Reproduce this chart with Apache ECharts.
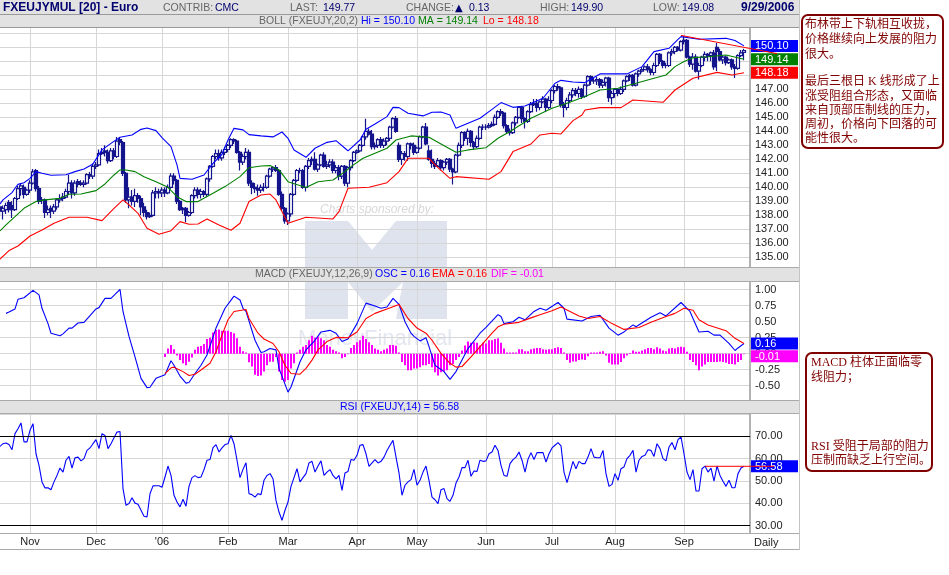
<!DOCTYPE html>
<html>
<head>
<meta charset="utf-8">
<title>FXEUJYMUL</title>
<script src="https://cdn.jsdelivr.net/npm/echarts@6/dist/echarts.min.js"></script>
<style>
  html, body { margin: 0; padding: 0; background: #fff; }
  #chart { width: 949px; height: 575px; }
</style>
</head>
<body>
<div id="chart"></div>
<script>
// 每根K线一个交易日，第0天到第248天
const opens = [
  138.6,138.3,138.4,138.9,138.7,138.4,139.2,139.9,140.0,139.5,
  139.8,140.3,141.2,139.9,139.1,139.1,138.2,138.5,138.3,138.6,
  139.1,139.2,139.3,139.7,140.3,139.6,140.4,140.3,140.2,140.3,
  140.9,140.8,141.5,141.6,142.4,142.6,142.5,141.9,142.6,142.2,
  143.4,143.2,141.0,139.1,139.3,139.0,139.4,139.2,138.6,138.2,
  137.9,138.0,139.6,139.7,139.6,139.8,139.6,140.0,140.8,140.5,
  139.0,138.4,138.5,138.0,138.2,139.4,139.8,139.5,139.7,139.5,
  140.6,141.5,142.2,142.4,142.1,142.5,142.7,143.0,143.4,143.3,
  142.5,141.8,142.2,142.5,140.3,140.0,139.9,139.8,140.0,140.0,
  140.8,141.3,141.4,141.2,139.5,138.5,137.6,138.1,139.5,140.5,
  141.2,141.2,140.0,141.5,141.9,142.0,141.3,141.6,142.3,141.5,
  141.6,141.8,141.2,141.4,140.8,141.5,140.3,141.4,141.9,142.5,
  142.6,143.0,143.6,144.0,143.8,142.9,143.0,143.4,143.0,143.3,
  143.5,144.3,144.9,143.0,142.0,142.4,142.2,143.1,143.0,142.5,
  142.8,143.6,144.3,142.6,142.0,141.7,141.5,141.9,141.4,141.8,
  142.0,141.3,141.1,142.3,143.0,143.9,143.5,144.0,143.2,142.9,
  143.5,144.3,144.3,144.3,144.4,144.5,145.0,145.4,145.3,144.4,
  144.0,143.9,144.6,145.0,145.7,144.9,144.7,145.4,145.9,146.0,
  145.7,146.1,146.3,145.7,146.2,146.9,147.2,147.1,145.9,145.7,
  146.2,146.6,146.9,146.7,147.0,146.5,147.3,147.9,147.6,147.6,
  147.7,147.3,147.5,147.8,146.4,146.7,147.0,146.7,147.0,147.6,
  147.9,148.0,147.3,148.1,148.3,148.4,148.6,148.4,148.2,148.7,
  149.5,149.0,148.7,148.7,149.6,149.7,150.0,149.8,150.4,150.5,
  149.3,148.8,149.3,148.3,148.7,149.3,149.5,149.4,149.6,150.0,
  149.7,149.1,149.3,148.9,149.1,148.6,148.5,149.4,149.64
]
const closes = [
  138.3,138.5,138.7,138.4,138.4,139.2,139.9,140.1,139.5,139.8,
  140.3,141.1,139.9,139.0,139.1,138.2,138.4,138.3,138.6,139.1,
  139.2,139.3,139.7,140.3,139.6,140.3,140.2,140.2,140.3,140.9,
  140.8,141.5,141.6,142.4,142.5,142.5,141.9,142.6,142.2,143.3,
  143.2,141.0,139.1,139.3,139.0,139.4,139.2,138.6,138.2,137.9,
  138.0,139.6,139.7,139.6,139.8,139.6,140.0,140.8,140.5,139.0,
  138.4,138.5,138.0,138.2,139.4,139.8,139.5,139.7,139.5,140.6,
  141.5,142.2,142.4,142.1,142.5,142.7,143.0,143.4,143.3,142.5,
  141.8,142.2,142.5,140.3,140.0,139.9,139.8,140.0,140.0,140.8,
  141.3,141.4,141.2,139.5,138.5,137.6,138.1,139.5,140.5,141.2,
  141.2,140.0,141.5,141.9,142.0,141.3,141.6,142.3,141.5,141.6,
  141.8,141.2,141.4,140.8,141.5,140.3,141.4,141.9,142.5,142.6,
  143.0,143.6,144.0,143.8,142.9,143.0,143.4,143.0,143.3,143.5,
  144.3,144.9,144.0,142.0,142.4,142.2,143.1,143.0,142.5,142.8,
  143.6,144.3,143.1,142.0,141.7,141.5,141.9,141.4,141.8,142.0,
  141.3,141.1,142.3,143.0,143.9,143.5,144.0,143.2,142.9,143.5,
  144.3,144.3,144.3,144.4,144.5,145.0,145.4,145.3,144.4,144.0,
  143.9,144.6,145.0,145.7,144.9,144.7,145.4,145.9,146.0,145.7,
  146.1,146.3,145.7,146.2,146.9,147.2,147.1,145.9,145.7,146.2,
  146.6,146.9,146.7,147.0,146.5,147.3,147.9,147.6,147.6,147.7,
  147.3,147.5,147.8,146.4,146.7,147.0,146.7,147.0,147.6,147.9,
  148.0,147.3,148.1,148.3,148.4,148.6,148.4,148.2,148.7,149.5,
  149.0,148.7,148.7,149.6,149.7,150.0,149.8,150.4,150.5,149.3,
  148.8,149.3,148.3,148.7,149.3,149.5,149.4,149.6,148.6,149.7,
  149.1,149.3,148.9,149.1,148.6,148.5,149.4,149.6,149.77
]
const lows = [
  138.0,137.7,138.1,138.2,137.8,138.3,139.1,139.4,139.2,139.4,
  139.6,140.2,139.7,138.8,138.8,137.8,138.0,137.8,138.1,138.4,
  138.9,139.0,139.2,139.5,139.2,139.4,140.0,140.1,140.0,140.2,
  140.6,140.6,141.3,141.5,142.3,142.2,141.7,141.8,142.0,142.1,
  143.0,140.8,138.9,138.5,138.7,138.6,138.9,138.0,137.9,137.7,
  137.8,137.9,139.2,139.2,139.3,139.3,139.5,139.9,140.2,138.8,
  138.3,138.1,137.5,137.9,138.1,139.2,139.2,139.2,139.3,139.3,
  140.4,141.4,142.0,141.9,141.9,142.3,142.5,142.8,143.1,142.4,
  141.2,141.6,142.0,140.1,139.5,139.6,139.4,139.6,139.7,139.9,
  140.7,141.1,141.1,139.4,138.3,137.4,137.3,137.9,139.4,140.4,
  141.0,139.9,139.7,141.3,141.6,141.2,141.1,141.5,141.4,141.3,
  141.4,141.0,141.0,140.5,140.6,140.1,140.0,141.2,141.8,142.4,
  142.5,142.9,143.4,143.7,142.7,142.7,142.8,142.8,142.8,143.0,
  143.3,144.2,143.9,141.8,141.6,141.9,141.9,142.7,142.3,142.4,
  142.7,143.5,143.0,141.9,141.4,141.3,141.6,141.2,141.2,141.6,
  141.1,140.2,141.0,142.2,142.8,143.3,143.0,142.9,142.7,142.8,
  143.4,144.1,144.1,144.2,144.3,144.4,144.9,145.1,144.2,143.8,
  143.7,143.8,144.4,144.9,144.6,144.2,144.6,145.3,145.8,145.4,
  145.5,146.0,145.4,145.6,146.0,146.7,146.9,145.7,145.0,145.5,
  146.0,146.4,146.5,146.4,146.3,146.4,147.2,147.3,147.4,147.3,
  147.1,147.1,147.2,146.1,145.9,146.4,146.5,146.6,146.8,147.5,
  147.6,147.2,147.2,147.9,148.2,148.4,148.2,148.0,148.0,148.6,
  148.8,148.5,148.5,148.6,149.4,149.5,149.7,149.7,150.2,149.2,
  148.6,148.4,148.2,147.7,148.6,149.0,149.0,149.0,148.4,148.3,
  149.0,148.8,148.7,148.8,148.4,147.8,148.4,149.3,149.08
]
const highs = [
  138.8,138.7,138.9,139.1,139.0,139.3,140.1,140.3,140.2,139.9,
  140.5,141.3,141.3,140.1,139.3,139.2,138.7,138.7,138.8,139.2,
  139.5,139.6,139.9,140.9,140.5,140.5,140.6,140.5,140.5,141.0,
  141.1,141.7,141.8,142.7,142.8,143.0,142.7,142.8,142.8,143.6,
  143.6,143.3,141.1,140.0,139.8,139.9,139.6,139.4,138.9,138.4,
  138.2,139.8,140.0,139.9,140.0,140.0,140.2,141.0,141.0,140.6,
  139.1,138.6,138.6,138.3,139.5,140.0,140.0,139.9,139.8,140.7,
  141.6,142.3,142.7,142.7,142.7,142.9,143.1,143.5,143.5,143.4,
  142.6,142.4,142.8,142.7,140.5,140.3,140.2,140.2,140.3,140.9,
  141.4,141.5,141.6,141.3,139.7,138.6,138.2,139.6,140.6,141.3,
  141.4,141.3,141.6,142.1,142.2,142.5,141.7,142.4,142.5,141.9,
  142.0,142.0,141.6,141.6,141.6,141.6,141.5,142.0,142.6,142.7,
  143.1,143.7,144.9,144.2,144.1,143.2,143.5,143.6,143.5,143.6,
  144.4,145.0,145.1,143.2,142.6,142.6,143.2,143.2,143.2,142.9,
  143.7,144.4,144.6,143.0,142.7,141.9,142.1,142.0,141.9,142.1,
  142.1,141.4,142.4,143.2,144.0,144.0,144.2,144.1,143.3,143.7,
  144.4,144.5,144.5,144.6,144.7,145.2,145.5,145.6,145.4,144.5,
  144.2,144.7,145.1,145.8,145.8,145.0,145.5,146.1,146.3,146.3,
  146.2,146.5,146.4,146.5,147.0,147.3,147.4,147.2,146.1,146.4,
  146.8,147.1,147.1,147.2,147.1,147.4,148.0,148.0,147.8,147.9,
  147.8,147.7,147.9,147.9,146.9,147.1,147.1,147.2,147.7,148.0,
  148.1,148.1,148.2,148.4,148.6,148.7,148.8,148.5,148.9,149.6,
  149.6,149.1,148.9,149.7,149.9,150.1,150.1,150.5,150.8,150.6,
  149.4,149.6,149.5,148.9,149.4,149.7,149.6,149.7,149.8,150.3,
  149.9,149.4,149.4,149.2,149.2,148.8,149.5,149.8,149.90
]

// 布林带、MACD 折线的拐点：[第几天, 数值]
const bollHi = [
  [0,138.81],[1,139.1],[4,139.62],[5,139.93],[6,140.21],[8,140.33],[10,140.64],[12,141.12],[14,141],[17,140.86],
  [22,140.9],[25,141.12],[28,141.31],[31,141.67],[34,142.67],[37,143.14],[40,143.57],[44,143.74],[47,144.14],[49,144.24],
  [52,144.05],[54,143.55],[57,142.9],[59,141.6],[60,140.64],[64,140.57],[68,140.88],[71,141.71],[74,142.36],[76,143.38],
  [78,144.21],[81,144.1],[83,143.76],[87,143.67],[91,143.6],[94,143.95],[96,143.5],[98,142.67],[102,142.14],[105,142.79],
  [109,143.21],[112,143.33],[115,142.79],[116,142.6],[120,143.38],[122,144.14],[125,144.52],[129,145.05],[131,145.71],[133,145.69],
  [136,145.29],[141,145.1],[144,145.36],[147,145.38],[150,145.17],[152,144.21],[156,144.57],[160,144.93],[164,145.57],[167,146.05],
  [171,145.71],[175,145.81],[181,146.36],[185,147.43],[187,147.64],[191,147.52],[195,147.48],[200,148.1],[209,148.1],[214,148.62],
  [218,149.69],[223,149.93],[226,150.57],[227,150.76],[233,150.57],[242,150.64],[245,150.48],[248,150.1]
]
const bollMa = [
  [0,136.88],[2,137.31],[5,137.9],[8,138.5],[12,138.98],[15,139.1],[20,139.21],[23,139.5],[27,139.52],[32,139.76],
  [35,140.24],[38,140.88],[40,141.24],[42,141.24],[45,141.12],[48,140.76],[52,140.4],[56,140],[59,139.33],[62,138.98],
  [66,138.98],[71,139.57],[75,140.05],[80,140.76],[83,141.4],[87,141.52],[90,141.55],[93,141.24],[96,140.4],[102,139.98],
  [106,140.4],[111,140.52],[115,141.12],[117,141.48],[121,142.07],[125,142.43],[129,142.79],[132,143.38],[137,143.67],[143,143.57],
  [147,143.1],[152,142.5],[156,142.67],[162,142.83],[166,143.5],[170,143.98],[177,144.93],[184,145.64],[189,146],[195,146.48],
  [200,146.95],[206,147.07],[212,147.43],[218,147.79],[222,148.02],[225,148.62],[228,148.98],[231,149.26],[236,149.33],[242,149.45],[248,149.14]
]
const bollLo = [
  [0,134.88],[3,135.48],[6,135.81],[10,136.52],[14,136.95],[18,137.43],[23,137.86],[29,137.86],[34,137.62],[38,138.5],
  [41,139.1],[43,138.74],[46,138.14],[49,137.07],[53,136.64],[57,136.9],[60,137.55],[63,137.36],[66,137.38],[69,137.74],
  [73,137.31],[77,136.93],[80,137.43],[83,138.98],[87,139.45],[90,139.52],[92,139.1],[96,137.43],[102,137.86],[111,137.74],
  [113,138.26],[116,139.93],[123,140],[129,140.33],[133,141.12],[136,142.07],[143,142.07],[145,141.6],[150,140.64],[152,140.76],
  [163,140.57],[167,141.12],[171,142.55],[177,143.1],[180,143.74],[184,143.86],[187,143.81],[191,144.76],[194,145.17],[195,145.52],
  [200,145.69],[207,145.69],[211,146.24],[221,146.07],[225,146.95],[231,147.79],[239,148.21],[244,148.02],[248,148.18]
]
const macdOsc = [
  [2,.63],[3,.65],[5,.7],[6,.85],[8,.875],[11,.99],[13,.92],[14,.71],[16,.47],[17,.32],
  [20,.28],[21,.31],[23,.4],[24,.4],[26,.48],[28,.49],[32,.7],[33,.72],[35,.865],[37,.865],
  [40,1.005],[41,.66],[43,.27],[45,-.05],[47,-.385],[49,-.53],[50,-.525],[52,-.385],[55,-.33],[57,-.11],
  [58,-.18],[60,-.35],[62,-.46],[63,-.45],[65,-.31],[67,-.18],[69,-.02],[72,.4],[75,.71],[78,.9],
  [80,.84],[81,.71],[82,.66],[85,.21],[87,.02],[88,.03],[90,.08],[92,.06],[93,-.23],[96,-.6],
  [97,-.52],[100,-.125],[102,.06],[105,.21],[107,.34],[110,.365],[112,.32],[114,.19],[116,.23],[119,.47],
  [122,.79],[125,.745],[127,.71],[129,.73],[131,.865],[133,.77],[135,.5],[137,.32],[138,.27],[140,.2],
  [142,.25],[143,.11],[145,-.18],[148,-.28],[150,-.4],[152,-.28],[156,.08],[160,.32],[162,.41],[166,.61],
  [167,.58],[168,.47],[171,.5],[173,.57],[175,.53],[178,.66],[180,.71],[182,.68],[186,.8],[188,.71],
  [189,.54],[194,.51],[197,.58],[200,.6],[203,.4],[206,.29],[208,.34],[211,.45],[212,.42],[217,.57],
  [220,.64],[222,.59],[227,.8],[230,.66],[231,.55],[233,.34],[236,.35],[238,.29],[240,.29],[243,.16],
  [245,.05],[246,.09],[248,.16]
]
const macdEma = [
  [55,-.31],[57,-.22],[58,-.21],[61,-.28],[63,-.34],[65,-.32],[67,-.255],[70,-.15],[72,.03],[74,.29],
  [76,.53],[78,.66],[82,.69],[83,.55],[86,.32],[88,.23],[91,.16],[93,.03],[95,-.18],[97,-.31],
  [100,-.32],[102,-.23],[104,-.1],[106,.06],[109,.19],[112,.255],[116,.25],[119,.34],[122,.55],[125,.63],
  [129,.7],[133,.77],[136,.55],[139,.4],[142,.32],[144,.21],[147,.005],[150,-.15],[152,-.21],[154,-.2],
  [157,-.05],[161,.16],[164,.32],[166,.42],[168,.46],[173,.49],[177,.56],[180,.61],[184,.67],[187,.73],
  [190,.66],[193,.59],[196,.55],[200,.58],[204,.47],[208,.38],[213,.41],[217,.49],[222,.58],[225,.63],
  [228,.71],[231,.68],[233,.53],[236,.45],[242,.36],[245,.24],[248,.16]
]
// MACD 柱体从第55天开始，每天一根
const histStart = 55
const macdHist = [
  -.05,.08,.135,.07,-.03,-.1,-.15,-.18,-.125,-.06,
  .06,.11,.12,.15,.23,.25,.33,.37,.38,.36,
  .36,.36,.34,.32,.24,.11,.04,.02,-.135,-.2,
  -.33,-.35,-.34,-.28,-.18,-.125,-.125,-.05,-.28,-.41,
  -.44,-.41,-.23,-.15,.02,.06,.11,.135,.21,.28,
  .25,.27,.24,.21,.135,.11,.06,.04,.02,-.07,
  -.05,-.01,.09,.135,.18,.21,.28,.23,.18,.135,
  .08,.06,.04,.06,.08,.135,.135,.125,.02,
  -.13,-.18,-.26,-.26,-.23,-.23,-.21,-.18,-.18,-.16,
  -.21,-.29,-.34,-.29,-.28,-.26,-.18,-.16,-.1,-.05,
  .05,.13,.19,.17,.18,.17,.13,.17,.16,.21,
  .21,.23,.24,.17,.08,.02,.02,.02,.02,.07,
  .07,.04,.04,.07,.08,.09,.09,.07,.06,.07,
  .07,.09,.1,.09,.02,-.1,-.14,-.12,-.12,-.1,
  -.09,-.1,-.04,.02,.02,.02,.03,.04,-.03,-.14,
  -.17,-.17,-.17,-.13,-.07,-.03,.01,.05,.03,.03,
  .05,.07,.09,.09,.07,.1,.08,.05,.04,.08,
  .09,.08,.1,.11,.1,.03,-.1,-.13,-.18,-.26,
  -.2,-.17,-.13,-.13,-.13,-.13,-.12,-.13,-.14,-.16,
  -.16,-.17,-.13,-.1,-.01
]
const rsi = [
  65.5,66.7,67,66.3,64,71.2,73.4,76,67.5,67.5,
  72.7,75.7,62.2,57,49.6,46.9,47,46.1,49.6,52.5,
  55.8,54,59.3,61,55.8,60.4,60.7,59,60,63.7,
  64.8,66.7,68.5,64.5,71.2,70.4,64.5,66.7,69.4,71.9,
  72.2,46.6,39.1,39.9,42.5,40.1,39.6,36.9,34.2,33.9,
  44.3,47.8,47.9,47.9,47.2,51.8,56.7,52.5,43.6,40.6,
  38.4,41.8,38.7,47.6,51.5,52.4,51.5,51.8,55.1,59.3,
  59.6,64.9,66.3,63,64.8,66.3,66.7,70.4,66.7,59.3,
  51.5,55.2,58.2,44.3,43.9,42.8,44.3,43.9,50.3,52.5,
  53.3,51,41.3,36.1,32.4,36.9,40.6,47.6,51.5,55.5,
  49.6,51.5,53.3,58.1,58.8,54,56.7,59,52.5,54,
  55.1,52.5,51,52.5,45.8,53.6,54.3,59.6,59.3,61.5,
  66,66.3,62.2,56.6,58.1,59.6,58.1,58.8,60.7,63.7,
  66,68.2,60.7,
  53.6,43.6,48.1,49.6,50.6,55.2,48.1,50.3,54,56.7,
  50.3,42.8,41.6,39.9,46.1,46.6,42.1,40.9,43.6,49.1,
  51.8,56,56,59.3,52.1,54.5,54.3,59.3,58.8,59,
  62.2,63,66,63.7,57,52.5,52.1,57.8,59.6,60.7,
  63,59.3,54,59.7,62.7,59.6,62.7,62.7,62.7,58.5,
  62.2,64.8,66,67.2,65.7,54,49.3,54,58.8,55.5,
  58.8,57.8,57.8,60.7,64.5,60.7,60.4,60.4,63.7,53.3,
  47.6,48.5,53.3,50.3,55.5,56.3,60,61.5,63.7,54,
  59.3,61,61.5,64,63.7,61,66.7,64.5,60,59,
  65.2,67.2,64,68.5,69.7,62.2,54,50.6,55.1,45.5,
  45.5,55.5,56.7,54,55.8,49.9,56.7,52.5,49.9,47.6,
  50.3,47,47,53.3,55.8,56.58
]

// 月份刻度
const monthDays = [10, 32, 54, 76, 96, 119, 139, 162, 184, 205, 228]
const monthLabels = ['Nov', 'Dec', "'06", 'Feb', 'Mar', 'Apr', 'May', 'Jun', 'Jul', 'Aug', 'Sep']

// 最新数值
const lastBoll = { hi: 150.10, ma: 149.14, lo: 148.18 }
const lastMacd = { osc: 0.16, ema: 0.16, dif: -0.01 }
const lastRsi = 56.58
const rsiLevels = [70, 30]
// 手画的压力线
const priceTrend = [[227, 150.85], [259, 149.55]]
const rsiTrend = [[235, 56.58], [258, 56.58]]

const noteTop = [
  ['布林带上下轨相互收拢，', 25], ['价格继续向上发展的阻力', 40], ['很大。', 55],
  ['最后三根日 K 线形成了上', 82], ['涨受阻组合形态，又面临', 97], ['来自顶部压制线的压力，', 111],
  ['周初，价格向下回落的可', 125], ['能性很大。', 139]
]
const noteBottom = [
  ['MACD 柱体正面临零', 363], ['线阻力；', 378],
  ['RSI 受阻于局部的阻力', 447], ['压制而缺乏上行空间。', 461]
]

const days = []
for (let i = 0; i <= 250; i++) days.push(String(i))

const candles = opens.map((o, i) => [o, closes[i], lows[i], highs[i]])
const isMonth = (i) => monthDays.indexOf(i) !== -1
const gridColor = '#d6d6d6'
const axisFont = 'Liberation Sans, Arial, sans-serif'

function panelX(gridIndex) {
  return {
    type: 'category', gridIndex, data: days, boundaryGap: false,
    axisLine: { show: false }, axisTick: { show: false }, axisLabel: { show: false },
    splitLine: { show: true, interval: isMonth, lineStyle: { color: gridColor } }
  }
}

function panelY(gridIndex, min, max, interval, lo, hi) {
  return {
    type: 'value', gridIndex, position: 'right', min, max, interval, scale: true,
    axisLine: { show: true, onZero: false, lineStyle: { color: '#999', width: 1.5 } },
    axisTick: { show: false },
    axisLabel: {
      margin: 5, padding: [2, 0, 0, 0], color: '#222', fontSize: 11, fontFamily: axisFont,
      formatter: (v) => (v < lo || v > hi ? '' : v.toFixed(2))
    },
    splitLine: { show: true, lineStyle: { color: gridColor } }
  }
}

function line(name, data, color, xAxisIndex, yAxisIndex) {
  return {
    name, type: 'line', data, xAxisIndex, yAxisIndex, symbol: 'none', z: 4,
    lineStyle: { color, width: 1.1 }, itemStyle: { color }
  }
}

const option = {
  animation: false,
  backgroundColor: '#fff',
  grid: [
    { left: 0, top: 19.3, width: 750, height: 252 },
    { left: 0, top: 273.7, width: 750, height: 128 },
    { left: 0, top: 414, width: 750, height: 134 },
    { left: 0, top: 533, width: 750, height: 1 }
  ],
  xAxis: [
    panelX(0), panelX(1), panelX(2),
    {
      type: 'category', gridIndex: 3, data: days, boundaryGap: false, z: 20,
      axisLine: { show: false }, axisTick: { show: false }, splitLine: { show: false },
      axisLabel: {
        interval: (i) => isMonth(i), margin: 2, color: '#222', fontSize: 11, fontFamily: axisFont,
        formatter: (v) => monthLabels[monthDays.indexOf(Number(v))]
      }
    }
  ],
  yAxis: [
    panelY(0, 134, 152, 1, 135, 150),
    panelY(1, -0.75, 1.25, 0.25, -0.5, 1),
    panelY(2, 20, 80, 10, 30, 70),
    { type: 'value', gridIndex: 3, show: false }
  ],
  series: [
    {
      name: 'FXEUJY', type: 'candlestick', data: candles, xAxisIndex: 0, yAxisIndex: 0,
      barWidth: 3, clip: false, z: 3,
      itemStyle: { color: '#fff', color0: '#14148c', borderColor: '#14148c', borderColor0: '#14148c', borderWidth: 1.2 }
    },
    line('Hi', bollHi, '#0000ff', 0, 0),
    line('MA', bollMa, '#008000', 0, 0),
    line('Lo', bollLo, '#ff0000', 0, 0),
    {
      name: 'DIF', type: 'bar', xAxisIndex: 1, yAxisIndex: 1, barWidth: 2, z: 3,
      data: macdHist.map((v, k) => [histStart + k, v]), itemStyle: { color: '#ff00ff' }
    },
    line('OSC', macdOsc, '#0000ff', 1, 1),
    line('EMA', macdEma, '#ff0000', 1, 1),
    Object.assign(line('RSI', rsi, '#0000ff', 2, 2), {
      markLine: {
        silent: true, symbol: 'none', label: { show: false },
        lineStyle: { color: '#000', width: 1, type: 'solid' },
        data: rsiLevels.map((v) => ({ yAxis: v }))
      }
    })
  ]
}

const chart = echarts.init(document.getElementById('chart'))
chart.setOption(option)

function label(x, y, text, fill, font, extra) {
  return {
    type: 'text', z: 13, silent: true,
    style: Object.assign({ x, y, text, fill, font: font || '10px ' + axisFont, textVerticalAlign: 'middle' }, extra)
  }
}
function band(x, y, width, height, fill, z) {
  return { type: 'rect', z: z || 10, silent: true, shape: { x, y, width, height }, style: { fill } }
}
function rule(x1, y1, x2, y2, stroke) {
  return { type: 'line', z: 12, silent: true, shape: { x1, y1, x2, y2 }, style: { stroke, lineWidth: 1 } }
}
function valueBox(gridIndex, value, fill, offset) {
  const y = chart.convertToPixel({ gridIndex }, [0, value])[1] + (offset || 0)
  return [
    band(751, y - 6, 47, 12, fill, 11),
    label(755, y + 0.5, value.toFixed(2), '#fff', '11px ' + axisFont)
  ]
}
function trend(gridIndex, points) {
  const a = chart.convertToPixel({ gridIndex }, points[0])
  const b = chart.convertToPixel({ gridIndex }, points[1])
  return { type: 'line', z: 14, silent: true, shape: { x1: a[0], y1: a[1], x2: b[0], y2: b[1] }, style: { stroke: '#ff0000', lineWidth: 1 } }
}

const gray = '#666'
const navy = '#00006e'
const f10 = '10.5px ' + axisFont
const f11 = '11px ' + axisFont
const bold = 'bold 12px ' + axisFont
const noteFont = '12px "Liberation Serif", "Noto Sans CJK SC", serif'

const graphics = [
  // 水印
  {
    type: 'polygon', z: -1, silent: true,
    shape: { points: [[305, 221], [348, 221], [372, 250], [396, 221], [447, 221], [447, 319], [396, 319], [403, 282], [372, 312], [348, 282], [348, 319], [305, 319]] },
    style: { fill: '#dfe3ee' }
  },
  { type: 'text', z: -1, silent: true, style: { x: 320, y: 210, text: 'Charts sponsored by:', fill: '#d8d8d8', font: 'italic 12px ' + axisFont, textVerticalAlign: 'middle' } },
  { type: 'text', z: -1, silent: true, style: { x: 298, y: 339, text: 'MoneyFinancial', fill: '#e4e7f0', font: '22px ' + axisFont, textVerticalAlign: 'middle' } },

  // 标题栏
  band(0, 0, 800, 14.5, '#e2e2e2'),
  band(0, 15, 800, 12.5, '#e2e2e2'),
  band(0, 267, 800, 14.5, '#e2e2e2'),
  band(0, 400, 800, 14, '#e2e2e2'),
  band(0, 533, 800, 17, '#fff'),
  rule(0, 14.5, 800, 14.5, '#999'),
  rule(0, 27.5, 800, 27.5, '#999'),
  rule(0, 267.5, 800, 267.5, '#aaa'),
  rule(0, 281.5, 800, 281.5, '#aaa'),
  rule(0, 400.5, 800, 400.5, '#aaa'),
  rule(0, 413.5, 800, 413.5, '#aaa'),
  rule(0, 533.5, 800, 533.5, '#aaa'),
  rule(0, 549.5, 800, 549.5, '#aaa'),
  rule(799.5, 0, 799.5, 550, '#c4c4c4'),

  label(3, 8, 'FXEUJYMUL [20] - Euro', navy, bold),
  label(163, 8.5, 'CONTRIB:', gray, f10),
  label(215, 8.5, 'CMC', navy, f10),
  label(290, 8.5, 'LAST:', gray, f10),
  label(323, 8.5, closes[closes.length - 1].toFixed(2), navy, f10),
  label(406, 8.5, 'CHANGE:', gray, f10),
  label(455, 8, '▲', navy, '10px "DejaVu Sans"'),
  label(469, 8.5, '0.13', navy, f10),
  label(540, 8.5, 'HIGH:', gray, f10),
  label(571, 8.5, highs[highs.length - 1].toFixed(2), navy, f10),
  label(653, 8.5, 'LOW:', gray, f10),
  label(682, 8.5, lows[lows.length - 1].toFixed(2), navy, f10),
  label(741, 8, '9/29/2006', navy, bold),

  label(259, 21.5, 'BOLL (FXEUJY,20,2)', gray, f10),
  label(361, 21.5, 'Hi = ' + lastBoll.hi.toFixed(2), '#0000ff', f10),
  label(418, 21.5, 'MA = ' + lastBoll.ma.toFixed(2), '#008000', f10),
  label(483, 21.5, 'Lo = ' + lastBoll.lo.toFixed(2), '#ff0000', f10),

  label(255, 274.5, 'MACD (FXEUJY,12,26,9)', gray, f10),
  label(375, 274.5, 'OSC = ' + lastMacd.osc.toFixed(2), '#0000ff', f10),
  label(432, 274.5, 'EMA = ' + lastMacd.ema.toFixed(2), '#ff0000', f10),
  label(491, 274.5, 'DIF = ' + lastMacd.dif.toFixed(2), '#ff00ff', f10),

  label(340, 407.5, 'RSI (FXEUJY,14) = ' + lastRsi.toFixed(2), '#0000ff', f10),
  label(754, 543, 'Daily', '#222', f11),

  // 右侧注释框
  { type: 'rect', z: 12, silent: true, shape: { x: 802, y: 15, width: 141, height: 133, r: 6 }, style: { fill: '#fff', stroke: '#800000', lineWidth: 2 } },
  { type: 'rect', z: 12, silent: true, shape: { x: 806, y: 353, width: 126, height: 118, r: 6 }, style: { fill: '#fff', stroke: '#800000', lineWidth: 2 } }
]
  .concat(valueBox(0, lastBoll.hi, '#0000ff'))
  .concat(valueBox(0, lastBoll.ma, '#008000'))
  .concat(valueBox(0, lastBoll.lo, '#ff0000'))
  .concat(valueBox(1, lastMacd.osc, '#0000ff'))
  .concat(valueBox(1, lastMacd.dif, '#ff00ff', 2))
  .concat(valueBox(2, lastRsi, '#0000ff'))
  .concat(noteTop.map((n) => label(805, n[1], n[0], '#800000', noteFont)))
  .concat(noteBottom.map((n) => label(811, n[1], n[0], '#800000', noteFont)))
  .concat([trend(0, priceTrend), trend(2, rsiTrend)])

chart.setOption({ graphic: graphics })
</script>
</body>
</html>
